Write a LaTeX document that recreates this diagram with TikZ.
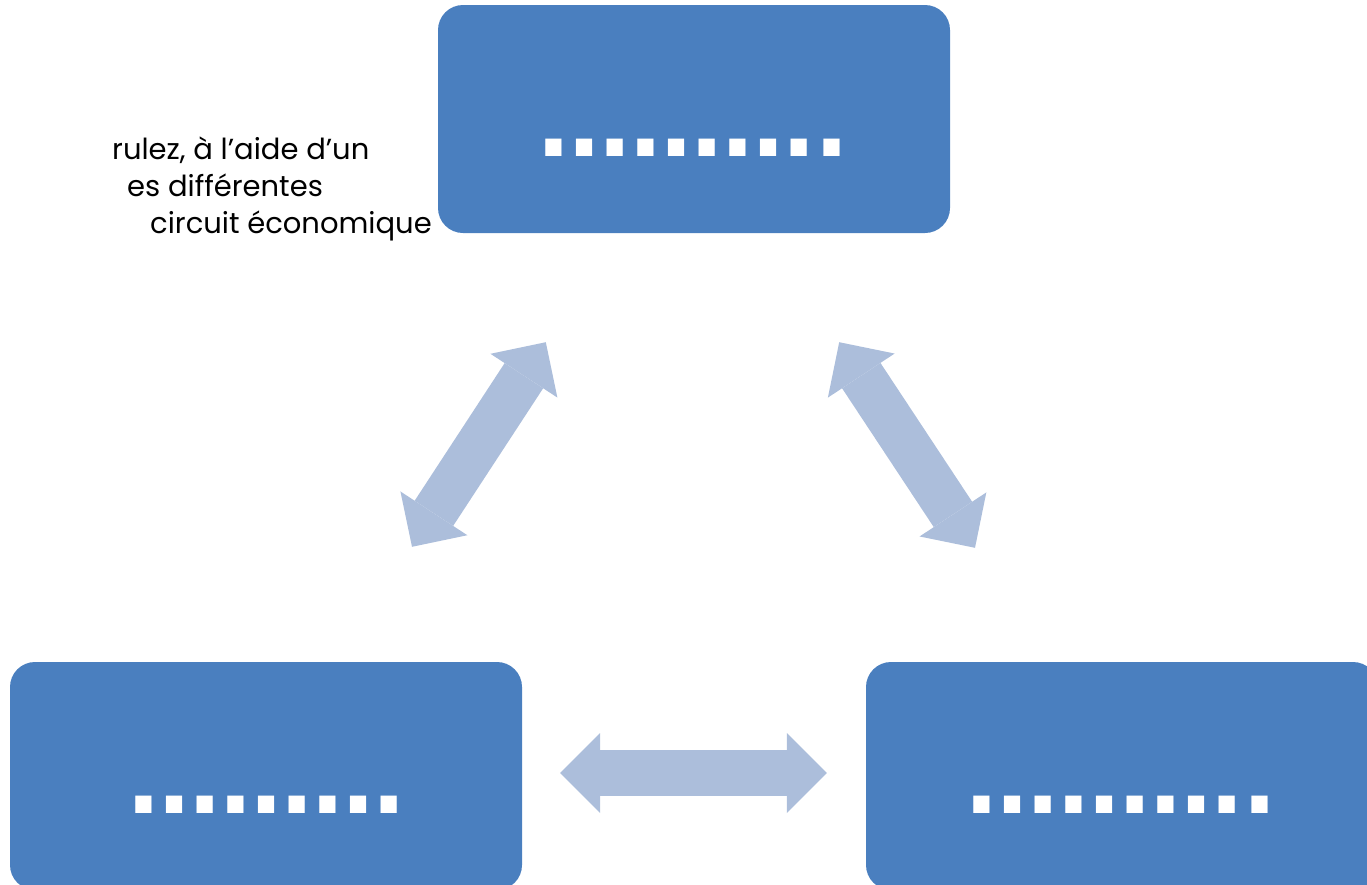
\documentclass[tikz,border=0pt]{standalone}
\usepackage{fontspec}
\setmainfont{Poppins}
\newfontfamily\dotfont{DejaVu Sans}
\usepackage{tikz}
\usetikzlibrary{positioning,arrows.meta,calc}
\definecolor{boxblue}{HTML}{4A7FBF}
\definecolor{arrowblue}{HTML}{ACBEDB}
\def \pts#1{\smash{\raisebox{-37pt}{\dotfont\bfseries\fontsize{92}{92}\selectfont #1}}}
\def \tip {Triangle[width=80pt 0 0,length=40pt 0 0,line width=0pt 0 0]}

\begin{document}
\begin{tikzpicture}[x=1pt, y=-1pt,
box/.style={fill=boxblue, rounded corners=25pt, minimum width=512pt, minimum height=228pt, inner sep=0pt, text=white},
link/.style={draw=arrowblue, fill=arrowblue, line width=46pt},
txt/.style={anchor=base west, inner sep=0pt, font=\fontsize{29}{35}\selectfont}
]
\useasboundingbox (0,0) rectangle (1367,884);

\node (top) [box] at (694,119) {\pts{……….}};
\node (left) [box] at (266,776) {\pts{………}};
\node (right) [box] at (1122,776) {\pts{……….}};

\node (l1) [txt] at (112,159) {rulez, à l'aide d'un};
\node (l2) [txt] at (127,196) {es différentes};
\node (l3) [txt] at (150,233) {circuit économique};

\coordinate (lu) at ([xshift=108pt,yshift=-109pt]top.south west);
\coordinate (ld) at ([xshift=146pt,yshift=115pt]left.north);
\coordinate (ru) at ([xshift=-111pt,yshift=-109pt]top.south east);
\coordinate (rd) at ([xshift=-147pt,yshift=114pt]right.north);

\draw[link, \tip-\tip] (ld) -- (lu);
\draw[link, \tip-\tip] (ru) -- (rd);
\draw[link, \tip-\tip, shorten <=38pt, shorten >=39pt] ([yshift=3pt]left.east) -- ([yshift=3pt]right.west);

\end{tikzpicture}
\end{document}
